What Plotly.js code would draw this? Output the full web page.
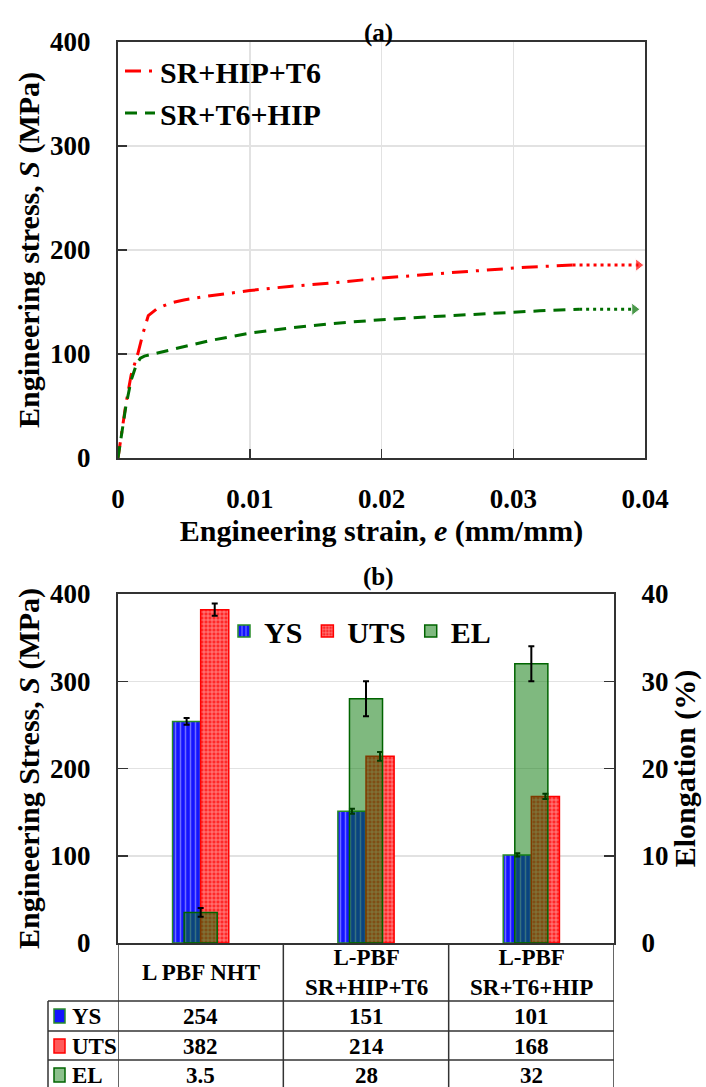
<!DOCTYPE html>
<html>
<head>
<meta charset="utf-8">
<script src="https://cdn.plot.ly/plotly-3.0.1.min.js"></script>
<style>
html,body{margin:0;padding:0;background:#fff;}
#chart{width:706px;height:1087px;}
</style>
</head>
<body>
<div id="chart"></div>
<script>
// ---------- (a) stress-strain data ----------
const strainHipT6 = [0, 0.0003, 0.0006, 0.001, 0.0015, 0.0019, 0.0023, 0.003, 0.004, 0.005, 0.007, 0.01, 0.013, 0.016, 0.02, 0.024, 0.028, 0.031, 0.0345];
const stressHipT6 = [0, 25, 52, 80, 100, 120, 137, 144, 149, 152, 156, 161, 165, 168, 173, 177, 181, 183.5, 185.5];
const extHipT6Strain = [0.0345, 0.0395];
const extHipT6Stress = [185.5, 185.5];

const strainT6Hip = [0, 0.0003, 0.0006, 0.001, 0.0014, 0.0017, 0.002, 0.003, 0.004, 0.005, 0.007, 0.01, 0.013, 0.016, 0.02, 0.024, 0.028, 0.032, 0.035];
const stressT6Hip = [0, 25, 50, 75, 90, 96, 98, 101, 104, 107, 113, 120, 125, 129, 133, 136, 139, 141.5, 143];
const extT6HipStrain = [0.035, 0.0392];
const extT6HipStress = [143, 143];

// ---------- (b) bar data ----------
const categories = ["L PBF NHT", "L-PBF<br>SR+HIP+T6", "L-PBF<br>SR+T6+HIP"];
const ysVals = [254, 151, 101];
const ysErr = [4, 3, 2];
const utsVals = [382, 214, 168];
const utsErr = [7, 5, 3];
const elVals = [3.5, 28, 32];
const elErr = [0.5, 2, 2];
const rowLabels = ["YS", "UTS", "EL"];

const W = 706, H = 1087;
const px = v => v / W;
const py = v => 1 - v / H;
const FONT = '"Liberation Serif", "Times New Roman", serif';
const bold = (s, c) => ({family: FONT, size: s, color: c || "#000", weight: 700});

const ysColor = "rgb(20,20,255)", ysLine = "rgb(40,140,40)";
const utsColor = "rgb(255,40,40)", utsLine = "rgb(255,0,0)";
const elColor = "rgba(0,115,0,0.5)", elLine = "rgb(0,100,0)";

const traces = [
  {x: strainHipT6, y: stressHipT6, type: "scatter", mode: "lines", name: "SR+HIP+T6",
   line: {color: "red", width: 3, dash: "16px,8px,3px,8px"}, xaxis: "x", yaxis: "y", legend: "legend"},
  {x: strainT6Hip, y: stressT6Hip, type: "scatter", mode: "lines", name: "SR+T6+HIP",
   line: {color: "rgb(0,110,0)", width: 3, dash: "12px,8px"}, xaxis: "x", yaxis: "y", legend: "legend"},
  {x: extHipT6Strain, y: extHipT6Stress, type: "scatter", mode: "lines+markers", showlegend: false,
   line: {color: "red", width: 3, dash: "3px,4px"},
   marker: {symbol: "triangle-right", size: [0, 11], color: "red"}, xaxis: "x", yaxis: "y"},
  {x: extT6HipStrain, y: extT6HipStress, type: "scatter", mode: "lines+markers", showlegend: false,
   line: {color: "rgb(0,110,0)", width: 3, dash: "3px,4px"},
   marker: {symbol: "triangle-right", size: [0, 11], color: "rgb(0,110,0)"}, xaxis: "x", yaxis: "y"},

  {x: categories, y: ysVals, type: "bar", name: "YS", xaxis: "x2", yaxis: "y2", legend: "legend2",
   offset: -0.17, width: 0.17,
   marker: {color: ysColor, line: {color: ysLine, width: 1.5},
            pattern: {shape: "|", fgcolor: "rgb(110,110,255)", bgcolor: ysColor, size: 5, solidity: 0.3, fillmode: "replace"}},
   error_y: {type: "data", array: ysErr, visible: true, color: "#000", thickness: 2, width: 3}},
  {x: categories, y: utsVals, type: "bar", name: "UTS", xaxis: "x2", yaxis: "y2", legend: "legend2",
   offset: 0, width: 0.17,
   marker: {color: utsColor, line: {color: utsLine, width: 1.5},
            pattern: {shape: "+", fgcolor: "rgb(255,150,150)", bgcolor: utsColor, size: 4, solidity: 0.35, fillmode: "replace"}},
   error_y: {type: "data", array: utsErr, visible: true, color: "#000", thickness: 2, width: 3}},
  {x: categories, y: elVals, type: "bar", name: "EL", xaxis: "x2", yaxis: "y3", legend: "legend2",
   offset: -0.1, width: 0.2,
   marker: {color: elColor, line: {color: elLine, width: 1.5}},
   error_y: {type: "data", array: elErr, visible: true, color: "#000", thickness: 2, width: 3}}
];

const gridC = "#e2e2e2", axC = "#333";
const xDomTop = [px(118), px(645)];
const yDomTop = [py(458), py(42)];
const xDomBot = [px(118), px(614)];
const yDomBot = [py(943), py(594)];

const shapes = [];
const annotations = [];
const tl = {color: "#333", width: 1.5};
// table horizontal lines
[1001, 1031, 1060].forEach(v => {
  shapes.push({type: "line", xref: "paper", yref: "paper", x0: px(48), x1: xDomBot[1], y0: py(v), y1: py(v), line: tl});
});
// table vertical lines at category boundaries
[-0.5, 0.5, 1.5, 2.5].forEach(b => {
  shapes.push({type: "line", xref: "x2", yref: "paper", x0: b, x1: b, y0: py(943), y1: py(1090), line: tl});
});
shapes.push({type: "line", xref: "paper", yref: "paper", x0: px(48), x1: px(48), y0: py(1001), y1: py(1090), line: tl});

// header texts
categories.forEach(c => {
  annotations.push({xref: "x2", yref: "paper", x: c, y: py(972), text: c, showarrow: false,
    font: bold(23), yanchor: "middle", xanchor: "center"});
});
const rowY = [1016, 1046, 1075];
const rowData = [ysVals, utsVals, elVals];
const keyFill = [ysColor, "rgb(255,90,90)", "rgba(0,115,0,0.45)"];
const keyLine = [ysLine, utsLine, elLine];
rowLabels.forEach((lab, i) => {
  annotations.push({xref: "paper", yref: "paper", x: px(70), y: py(rowY[i]), text: lab, showarrow: false,
    font: bold(23), xanchor: "left", yanchor: "middle"});
  shapes.push({type: "rect", xref: "paper", yref: "paper", x0: px(54), x1: px(65), y0: py(rowY[i] + 7), y1: py(rowY[i] - 7),
    fillcolor: keyFill[i], line: {color: keyLine[i], width: 1.5}});
  rowData[i].forEach((v, j) => {
    annotations.push({xref: "x2", yref: "paper", x: categories[j], y: py(rowY[i]), text: String(v), showarrow: false,
      font: bold(23), xanchor: "center", yanchor: "middle"});
  });
});
annotations.push({xref: "paper", yref: "paper", x: px(378), y: py(17), text: "(a)", showarrow: false, font: bold(25)});
annotations.push({xref: "paper", yref: "paper", x: px(378), y: py(577), text: "(b)", showarrow: false, font: bold(25)});

const layout = {
  width: W, height: H,
  margin: {l: 0, r: 0, t: 0, b: 0},
  paper_bgcolor: "#fff", plot_bgcolor: "#fff",
  font: {family: FONT, color: "#000"},
  barmode: "overlay",
  showlegend: true,
  xaxis: {domain: xDomTop, anchor: "y", range: [0, 0.04], dtick: 0.01, tick0: 0,
    showgrid: true, gridcolor: gridC, gridwidth: 1.5, zeroline: false,
    ticks: "inside", ticklen: 9, tickwidth: 1.5, tickcolor: axC,
    showline: true, linecolor: axC, linewidth: 2, mirror: true,
    tickfont: bold(27), ticklabelstandoff: 16, automargin: false,
    title: {text: "Engineering strain, <i>e</i> (mm/mm)", font: bold(30), standoff: 6}},
  yaxis: {domain: yDomTop, anchor: "x", range: [0, 400], dtick: 100,
    showgrid: true, gridcolor: gridC, gridwidth: 1.5, zeroline: false,
    ticks: "inside", ticklen: 9, tickwidth: 1.5, tickcolor: axC,
    showline: true, linecolor: axC, linewidth: 2, mirror: true,
    tickfont: bold(27), ticklabelstandoff: 20, automargin: false,
    title: {text: "Engineering stress, <i>S</i> (MPa)", font: bold(30), standoff: 2}},
  xaxis2: {domain: xDomBot, anchor: "y2", type: "category", range: [-0.5, 2.5],
    showticklabels: false, ticks: "", showgrid: false, zeroline: false,
    showline: true, linecolor: axC, linewidth: 2, mirror: true, automargin: false},
  yaxis2: {domain: yDomBot, anchor: "x2", range: [0, 400], dtick: 100,
    showgrid: true, gridcolor: gridC, gridwidth: 1.5, zeroline: false,
    ticks: "inside", ticklen: 10, tickwidth: 1.5, tickcolor: axC,
    showline: true, linecolor: axC, linewidth: 2, mirror: true,
    tickfont: bold(27), ticklabelstandoff: 20, automargin: false,
    title: {text: "Engineering Stress, <i>S</i> (MPa)", font: bold(30), standoff: 2}},
  yaxis3: {overlaying: "y2", anchor: "x2", side: "right", range: [0, 40], dtick: 10,
    showgrid: false, zeroline: false,
    ticks: "inside", ticklen: 10, tickwidth: 1.5, tickcolor: axC,
    showline: true, linecolor: axC, linewidth: 2,
    tickfont: bold(27), ticklabelstandoff: 20, automargin: false,
    title: {text: "Elongation (%)", font: bold(30), standoff: 4}},
  legend: {x: px(120), y: py(45), xanchor: "left", yanchor: "top", bgcolor: "rgba(255,255,255,0)",
    font: bold(30), itemwidth: 30, tracegroupgap: 0},
  legend2: {x: px(224), y: py(605), xanchor: "left", yanchor: "top", orientation: "h",
    bgcolor: "rgba(255,255,255,0)", font: bold(30), itemwidth: 30},
  shapes: shapes,
  annotations: annotations
};

Plotly.newPlot("chart", traces, layout, {staticPlot: true, displayModeBar: false});
</script>
</body>
</html>
